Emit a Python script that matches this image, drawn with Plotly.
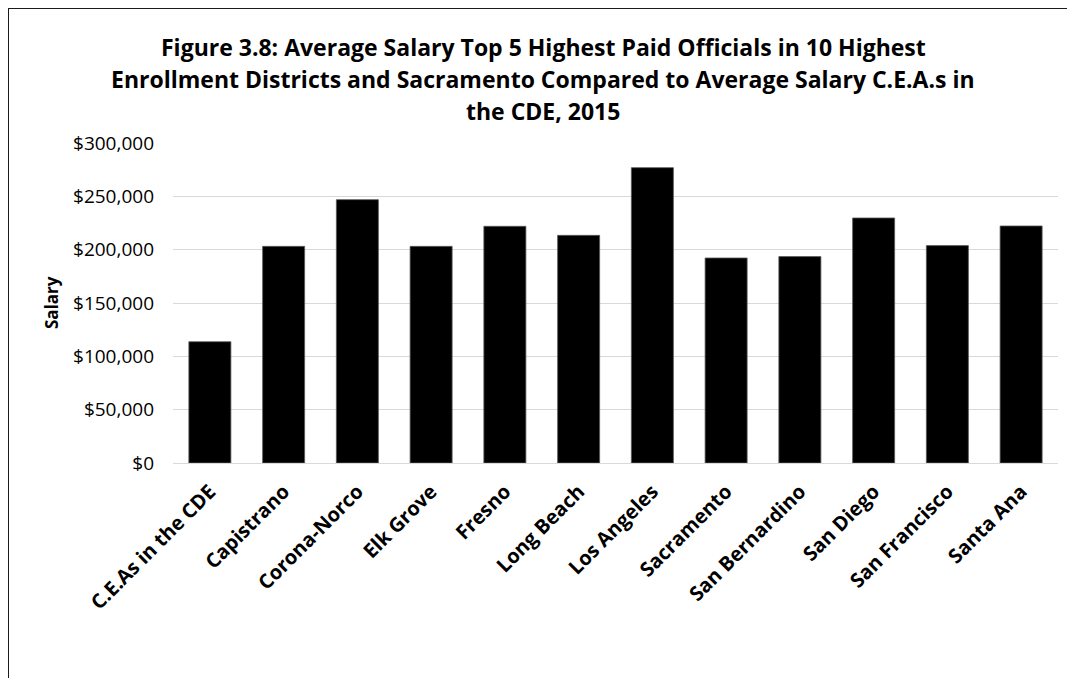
import plotly.graph_objects as go

categories = ["C.E.As in the CDE", "Capistrano", "Corona-Norco", "Elk Grove", "Fresno",
              "Long Beach", "Los Angeles", "Sacramento", "San Bernardino", "San Diego",
              "San Francisco", "Santa Ana"]
salary = [113700, 203100, 246900, 203100, 221900, 213400, 276900, 192200, 193500,
          229700, 203800, 222200]
title_lines = [
    "Figure 3.8: Average Salary Top 5 Highest Paid Officials in 10 Highest",
    "Enrollment Districts and Sacramento Compared to Average Salary C.E.A.s in",
    "the CDE, 2015",
]
y_ticks = [0, 50000, 100000, 150000, 200000, 250000, 300000]

# page body has an 8px margin; figure coords = screen coords - 8
W, H = 1059, 670
ML, MR, MT, MB = 165, 9, 135, 215
pw, ph = W - ML - MR, H - MT - MB
FONT = "'Open Sans', sans-serif"

fig = go.Figure(go.Bar(
    x=categories, y=salary,
    marker=dict(color="#000000", line=dict(color="#595959", width=0.8)),
))

def px_x(x):
    return (x - ML) / pw

def px_y(y):
    return (H - MB - y) / ph

annotations = []
for line, ypix in zip(title_lines, [39, 71, 103]):
    annotations.append(dict(
        text="<b>" + line + "</b>", x=px_x(535), y=px_y(ypix), xref="paper", yref="paper",
        xanchor="center", yanchor="middle", showarrow=False,
        font=dict(family=FONT, size=23, color="#000000")))
annotations.append(dict(
    text="<b>Salary</b>", x=px_x(43), y=0.5, xref="paper", yref="paper",
    xanchor="center", yanchor="middle", textangle=-90, showarrow=False,
    font=dict(family=FONT, size=17, color="#000000")))

shapes = [
    dict(type="line", xref="paper", yref="paper", x0=px_x(0), x1=px_x(W + 20),
         y0=px_y(0.5), y1=px_y(0.5), line=dict(color="#1a1a1a", width=1)),
    dict(type="line", xref="paper", yref="paper", x0=px_x(0.5), x1=px_x(0.5),
         y0=px_y(0), y1=px_y(H + 20), line=dict(color="#1a1a1a", width=1)),
]

fig.update_layout(
    width=W, height=H,
    margin=dict(l=ML, r=MR, t=MT, b=MB, autoexpand=False),
    paper_bgcolor="white", plot_bgcolor="white",
    bargap=0.43, showlegend=False,
    annotations=annotations, shapes=shapes,
    font=dict(family=FONT, color="#000000"),
)
fig.update_yaxes(
    range=[0, 300000], tickvals=y_ticks, tickformat="$,.0f",
    showgrid=True, gridcolor="#d9d9d9", gridwidth=1,
    zeroline=True, zerolinecolor="#d9d9d9", zerolinewidth=1,
    showline=False, ticks="", ticklabelstandoff=18,
    tickfont=dict(family=FONT, size=19, color="#000000"),
)
fig.update_xaxes(
    tickangle=-45, showgrid=False, showline=False, ticks="",
    tickfont=dict(family=FONT, size=20, color="#000000", weight="bold"),
    ticklabelstandoff=12,
)

fig.write_html("out.html")
